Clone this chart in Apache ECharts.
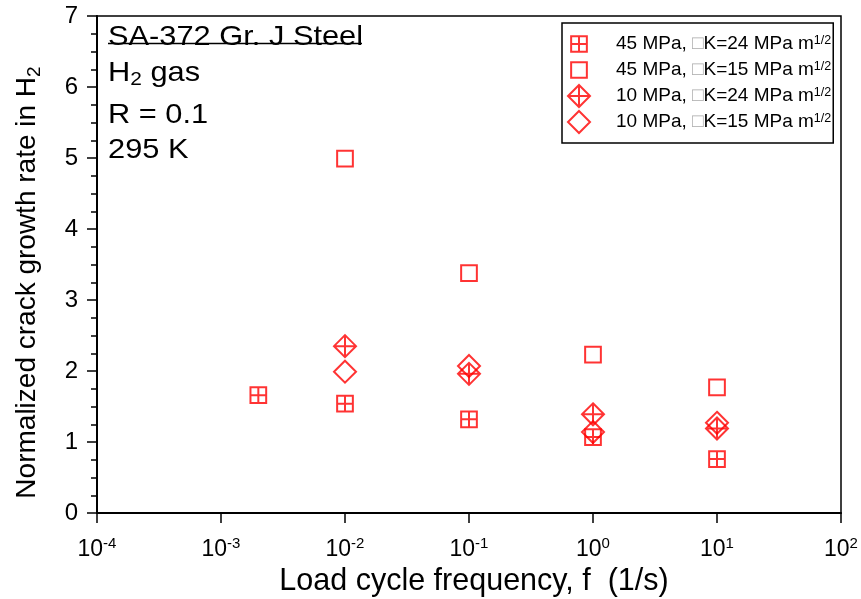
<!DOCTYPE html>
<html>
<head>
<meta charset="utf-8">
<script src="https://cdn.jsdelivr.net/npm/echarts@6/dist/echarts.min.js"></script>
<style>html,body{margin:0;padding:0;background:#fff}#c{width:861px;height:599px}</style>
</head>
<body>
<div id="c"></div>
<script>
// Data (frequency in 1/s, normalized crack growth rate)
const freq45_24 = [0.002, 0.01, 0.1, 1, 10];
const rate45_24 = [1.66, 1.54, 1.32, 1.07, 0.76];
const freq45_15 = [0.01, 0.1, 1, 10];
const rate45_15 = [4.99, 3.38, 2.23, 1.77];
const freq10_24 = [0.01, 0.1, 1, 10];
const rate10_24 = [2.35, 1.96, 1.39, 1.19];
const freq10_15 = [0.01, 0.1, 1, 10];
const rate10_15 = [1.99, 2.07, 1.14, 1.27];
const seriesNames = [
  '45 MPa, \u25A1K=24 MPa m1/2',
  '45 MPa, \u25A1K=15 MPa m1/2',
  '10 MPa, \u25A1K=24 MPa m1/2',
  '10 MPa, \u25A1K=15 MPa m1/2'
];
const annotLines = ['SA-372 Gr. J Steel', 'H{sub|2} gas', 'R = 0.1', '295 K'];
const xName = 'Load cycle frequency, f  (1/s)';
const yName = 'Normalized crack growth rate in H{sub|2}';

const RED = '#ff0000';
// squares are padded with invisible move-to points so they come out smaller than diamonds at the same symbol size
const symSqCross = 'path://M-2,-2 M12,12 M0,0 L10,0 L10,10 L0,10 Z M5,0 L5,10 M0,5 L10,5';
const symSq = 'path://M-2,-2 M12,12 M0,0 L10,0 L10,10 L0,10 Z';
const symDiaCross = 'path://M5,0 L10,5 L5,10 L0,5 Z M5,0 L5,10 M0,5 L10,5';
const symDia = 'path://M5,0 L10,5 L5,10 L0,5 Z';

function pairs(xs, ys) { return xs.map((x, i) => [x, ys[i]]); }

function mk(name, xs, ys, sym, size) {
  return {
    name: name, type: 'scatter', data: pairs(xs, ys),
    symbol: sym, symbolSize: size,
    itemStyle: { color: 'transparent', borderColor: RED, borderWidth: 2 },
    emphasis: { disabled: true }
  };
}

const FONT = 'Liberation Sans, Arial, sans-serif';
const chart = echarts.init(document.getElementById('c'));

function annot(i, y) {
  return { type: 'text', x: 108, y: y, scaleX: 1.1,
    style: { text: annotLines[i], fontSize: 28, fill: '#000', fontFamily: FONT, verticalAlign: 'middle',
      rich: { sub: { fontSize: 19, fill: '#000', fontFamily: FONT, padding: [14, 0, 0, 0] } } } };
}

chart.setOption({
  animation: false,
  backgroundColor: '#fff',
  textStyle: { fontFamily: FONT },
  grid: { left: 97, right: 20, top: 16, bottom: 86, show: true, borderColor: '#000', borderWidth: 1.5,
    containLabel: false, outerBoundsMode: 'none' },
  xAxis: {
    type: 'log', logBase: 10, min: 1e-4, max: 100,
    name: xName, nameLocation: 'middle', nameGap: 49,
    nameTextStyle: { fontSize: 30.5, color: '#000', fontFamily: FONT, padding: [0, 0, 0, 10] },
    axisLine: { lineStyle: { color: '#000', width: 2 } },
    axisTick: { inside: false, length: 10, lineStyle: { color: '#000', width: 1.5 } },
    minorTick: { show: false },
    splitLine: { show: false },
    axisLabel: {
      margin: 23, color: '#000',
      formatter: function (v) {
        const e = Math.round(Math.log10(v));
        return '{b|10}{s|' + e + '}';
      },
      rich: {
        b: { fontSize: 23, color: '#000', fontFamily: FONT },
        s: { fontSize: 15, color: '#000', fontFamily: FONT, padding: [0, 0, 12, 0] }
      }
    }
  },
  yAxis: {
    type: 'value', min: 0, max: 7, interval: 1,
    name: yName, nameLocation: 'middle', nameGap: 53, nameRotate: 90,
    nameTextStyle: { fontSize: 28, color: '#000', fontFamily: FONT, padding: [0, 36, 0, 0],
      rich: { sub: { fontSize: 19, color: '#000', fontFamily: FONT, padding: [15, 0, 0, 0] } } },
    axisLine: { show: true, lineStyle: { color: '#000', width: 2 } },
    axisTick: { inside: false, length: 10, lineStyle: { color: '#000', width: 1.5 } },
    minorTick: { show: true, splitNumber: 4, length: 6, lineStyle: { color: '#000', width: 1.5 } },
    splitLine: { show: false },
    axisLabel: { fontSize: 24, color: '#000', margin: 19, fontFamily: FONT }
  },
  legend: {
    orient: 'vertical', left: 562, top: 23,
    padding: [9, 2, 9, 5], itemGap: 2,
    itemWidth: 22, itemHeight: 22,
    borderColor: '#000', borderWidth: 1.5,
    data: seriesNames,
    itemStyle: { borderWidth: 2 },
    textStyle: {
      fontSize: 19, color: '#000', fontFamily: FONT, padding: [0, 0, 0, 21], lineHeight: 20,
      rich: {
        g: { fontSize: 19, color: '#aaa', fontFamily: FONT, lineHeight: 20 },
        s: { fontSize: 12.5, color: '#000', fontFamily: FONT, padding: [0, 0, 7, 0], lineHeight: 13 }
      }
    },
    formatter: function (name) {
      return name.replace('\u25A1', '{g|\u25A1}').replace('m1/2', 'm{s|1/2}');
    }
  },
  graphic: [
    annot(0, 37),
    { type: 'line', shape: { x1: 108, y1: 43.5, x2: 362, y2: 43.5 }, style: { stroke: '#000', lineWidth: 1.5 } },
    annot(1, 73),
    annot(2, 115),
    annot(3, 150)
  ],
  series: [
    mk(seriesNames[0], freq45_24, rate45_24, symSqCross, 22),
    mk(seriesNames[1], freq45_15, rate45_15, symSq, 22),
    mk(seriesNames[2], freq10_24, rate10_24, symDiaCross, 22),
    mk(seriesNames[3], freq10_15, rate10_15, symDia, 22)
  ]
});
</script>
</body>
</html>
